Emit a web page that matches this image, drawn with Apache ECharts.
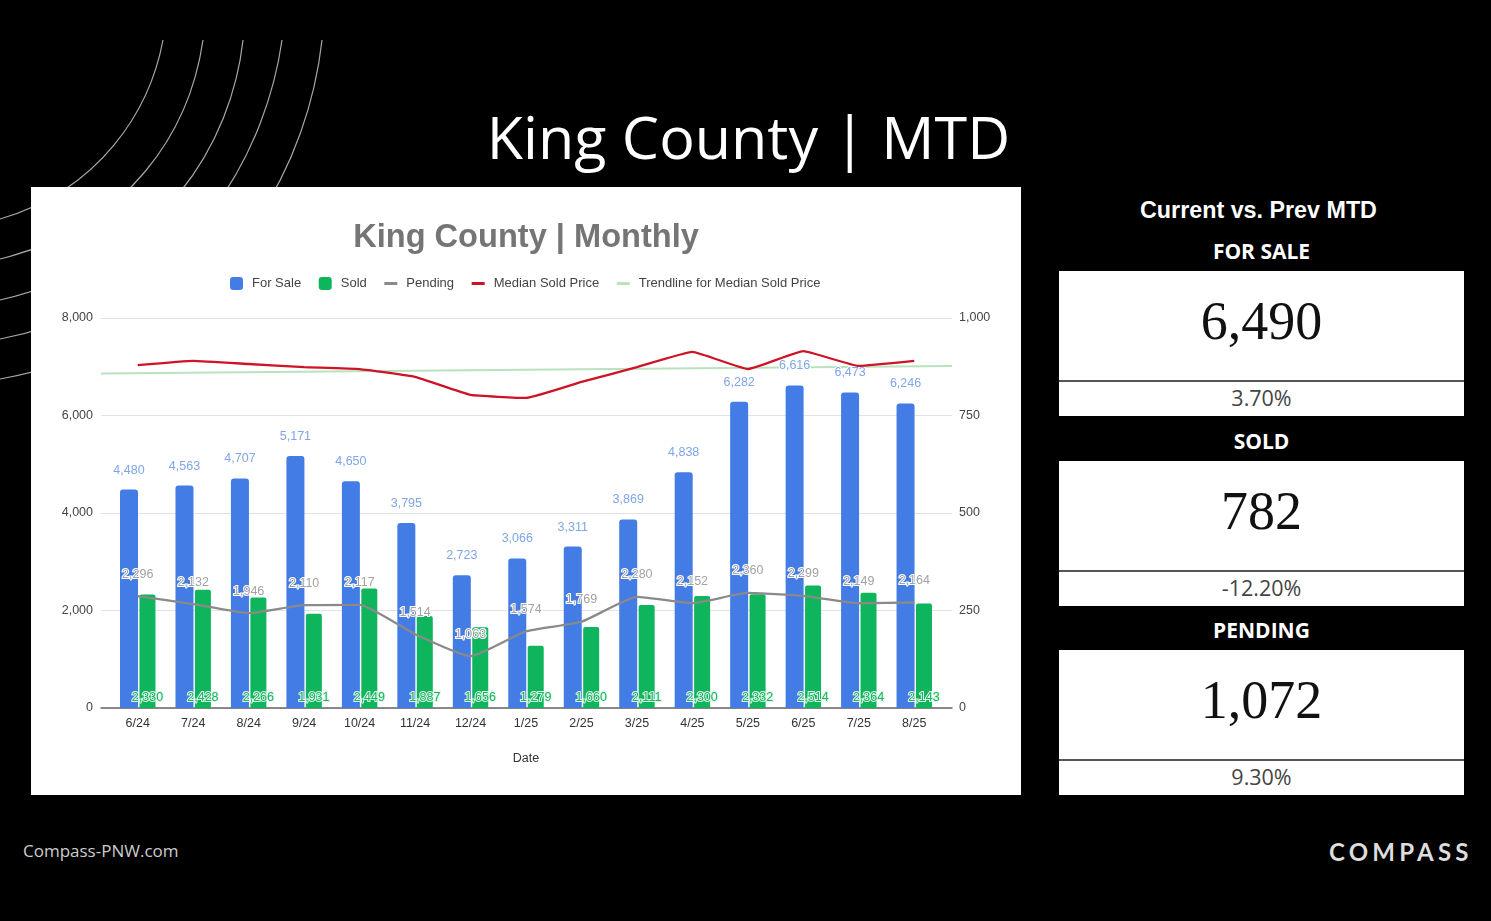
<!DOCTYPE html>
<html>
<head>
<meta charset="utf-8">
<title>King County | MTD</title>
<script src="https://cdn.jsdelivr.net/npm/echarts@6/dist/echarts.min.js"></script>
<style>
    html { background: #000; }
    body { margin: 0; width: 1491px; height: 921px; background: #000; overflow: hidden; filter: blur(0.4px); }
    #arcs { position: absolute; left: 0; top: 0; }
    #page-title {
        position: absolute; left: 31px; width: 1435px; top: 96px; text-align: center;
        color: #fff; font: 59.2px "Open Sans", sans-serif; white-space: pre;
    }
    #chart { position: absolute; left: 31px; top: 187px; width: 990px; height: 608px; background: #fff; }
    #panel-title {
        position: absolute; left: 1056px; width: 405px; top: 197px; text-align: center;
        color: #fff; font: bold 23.3px "Liberation Sans", sans-serif;
    }
    .stat-head {
        position: absolute; left: 1059px; width: 405px; text-align: center;
        color: #fff; font: bold 21px "Open Sans", sans-serif;
    }
    .stat-value {
        position: absolute; left: 1059px; width: 405px; height: 109px;
        background: #fff; color: #111; text-align: center; font: 54px/100px "Liberation Serif", serif;
        border-bottom: 2px solid #555; box-sizing: content-box;
    }
    .stat-change {
        position: absolute; left: 1059px; width: 405px; height: 34px;
        background: #fff; color: #444; text-align: center; font: 21.5px/32px "Open Sans", sans-serif;
    }
    #site { position: absolute; left: 23px; top: 839px; color: #ccc; font: 17px "Open Sans", sans-serif; }
    #logo {
        position: absolute; left: 1329px; top: 837px; color: #ddd;
        font: bold 24px "Lato", sans-serif; letter-spacing: 4.2px;
    }
</style>
</head>
<body>
<svg id="arcs" width="340" height="400" fill="none" stroke="#a8a8a8" stroke-width="1.2">
    <path d="M163,40 C150,110 100,190 0,219"/>
    <path d="M203,40 C190,130 130,227 0,259"/>
    <path d="M243,40 C232,140 165,262 0,300"/>
    <path d="M282,40 C268,140 200,300 0,339"/>
    <path d="M322,40 C310,150 240,335 0,379"/>
</svg>
<div id="page-title">King County | MTD</div>
<div id="chart"></div>
<div id="panel-title">Current vs. Prev MTD</div>
<div id="stats"></div>
<div id="site">Compass-PNW.com</div>
<div id="logo">COMPASS</div>

<script>
// chart data
const months = ['6/24', '7/24', '8/24', '9/24', '10/24', '11/24', '12/24', '1/25', '2/25', '3/25', '4/25', '5/25', '6/25', '7/25', '8/25'];
const forSale = [4480, 4563, 4707, 5171, 4650, 3795, 2723, 3066, 3311, 3869, 4838, 6282, 6616, 6473, 6246];
const sold = [2330, 2428, 2266, 1931, 2449, 1887, 1656, 1279, 1660, 2111, 2300, 2332, 2514, 2364, 2143];
const pending = [2296, 2132, 1946, 2110, 2117, 1514, 1063, 1574, 1769, 2280, 2152, 2360, 2299, 2149, 2164];
const medianPrice = [879, 890, 882, 874, 869, 849, 803, 795, 836, 874, 913, 869, 915, 877, 890];
const trendline = [[0, 858], [1, 877]];

// right hand panel
const statNames = ['FOR SALE', 'SOLD', 'PENDING'];
const statValues = ['6,490', '782', '1,072'];
const statChanges = ['3.70%', '-12.20%', '9.30%'];

const AXIS_FONT = { fontFamily: '"Liberation Sans", Arial, sans-serif', fontSize: 12.5 };
const LINE_ICON = 'path://M0,0 L13,0 Z M0,13 L13,13 Z M0,5 L13,5 L13,8 L0,8 Z';

// stat boxes
const statsEl = document.getElementById('stats');
statNames.forEach((name, i) => {
    const top = 271 + i * 189.5;
    statsEl.innerHTML +=
        `<div class="stat-head" style="top:${top - 34}px">${name}</div>` +
        `<div class="stat-value" style="top:${top}px">${statValues[i]}</div>` +
        `<div class="stat-change" style="top:${top + 111}px">${statChanges[i]}</div>`;
});

function dataLabel(position, distance, color, borderColor) {
    return Object.assign({
        show: true, position: position, distance: distance, color: color,
        textBorderColor: borderColor || '#fff', textBorderWidth: 2,
        formatter: p => p.value.toLocaleString('en-US')
    }, AXIS_FONT);
}

const myChart = echarts.init(document.getElementById('chart'));
myChart.setOption({
    animation: false,
    title: {
        text: 'King County | Monthly', left: 'center', top: 30,
        textStyle: { color: '#757575', fontSize: 32.6, fontWeight: 'bold', fontFamily: '"Liberation Sans", Arial, sans-serif' }
    },
    legend: {
        left: 194, top: 85, itemWidth: 13, itemHeight: 13, itemGap: 17.6,
        textStyle: Object.assign({}, AXIS_FONT, { color: '#444', fontSize: 13, padding: [0, 0, 0, 4] }),
        data: [
            { name: 'For Sale', icon: 'roundRect' },
            { name: 'Sold', icon: 'roundRect' },
            { name: 'Pending', icon: LINE_ICON },
            { name: 'Median Sold Price', icon: LINE_ICON },
            { name: 'Trendline for Median Sold Price', icon: LINE_ICON }
        ]
    },
    // grid 0 carries the gridlines and the full width baseline, grid 1 the months
    grid: [
        { left: 70, right: 69, top: 131, bottom: 87 },
        { left: 79, right: 79, top: 131, bottom: 87 }
    ],
    xAxis: [
        {
            type: 'value', gridIndex: 0, min: 0, max: 1, interval: 1,
            axisLabel: { show: false }, axisTick: { show: false }, splitLine: { show: false },
            axisLine: { show: true, onZero: false, lineStyle: { color: '#666', width: 1.5 } }
        },
        {
            type: 'category', gridIndex: 1, data: months, name: 'Date', nameLocation: 'middle', nameGap: 44,
            nameTextStyle: Object.assign({ color: '#333' }, AXIS_FONT),
            axisLine: { show: false }, axisTick: { show: false },
            axisLabel: Object.assign({ color: '#333', margin: 9, interval: 0 }, AXIS_FONT)
        }
    ],
    yAxis: [
        {
            type: 'value', gridIndex: 0, min: 0, max: 8000, interval: 2000,
            axisLine: { show: false }, axisTick: { show: false },
            axisLabel: Object.assign({ color: '#444', margin: 8, padding: [3, 0, 0, 0], formatter: v => v.toLocaleString('en-US') }, AXIS_FONT),
            splitLine: { lineStyle: { color: '#e2e2e2', width: 1.2 } }
        },
        {
            type: 'value', gridIndex: 0, position: 'right', min: 0, max: 1000, interval: 250,
            axisLine: { show: false }, axisTick: { show: false }, splitLine: { show: false },
            axisLabel: Object.assign({ color: '#444', margin: 7, padding: [3, 0, 0, 0], formatter: v => v.toLocaleString('en-US') }, AXIS_FONT)
        },
        { type: 'value', gridIndex: 1, min: 0, max: 8000, show: false },
        { type: 'value', gridIndex: 1, min: 0, max: 1000, show: false }
    ],
    series: [
        {
            name: 'Trendline for Median Sold Price', type: 'line', xAxisIndex: 0, yAxisIndex: 1, data: trendline,
            showSymbol: false, z: 1, itemStyle: { color: '#b9e2bd', borderWidth: 0 }, lineStyle: { color: '#b9e2bd', width: 2 }
        },
        {
            name: 'For Sale', type: 'bar', xAxisIndex: 1, yAxisIndex: 2, data: forSale, barWidth: 18, barGap: '8%', z: 2,
            itemStyle: { color: '#437ce4', borderRadius: [3, 3, 0, 0] },
            label: dataLabel('top', 13, '#7fa6e8')
        },
        {
            name: 'Sold', type: 'bar', xAxisIndex: 1, yAxisIndex: 2, data: sold, barWidth: 16, z: 2,
            itemStyle: { color: '#0fb55c', borderRadius: [2, 2, 0, 0] },
            label: dataLabel('insideBottom', 4, '#17b661', '#dff5e8')
        },
        {
            name: 'Pending', type: 'line', xAxisIndex: 1, yAxisIndex: 2, data: pending, smooth: 0.15, z: 3,
            showSymbol: true, showAllSymbol: true, symbol: 'circle', symbolSize: 1,
            itemStyle: { color: '#8a8a8a', borderWidth: 0 }, lineStyle: { color: '#8a8a8a', width: 2.3 },
            label: dataLabel('top', 15, '#a2a2a2')
        },
        {
            name: 'Median Sold Price', type: 'line', xAxisIndex: 1, yAxisIndex: 3, data: medianPrice, smooth: 0.1, showSymbol: false, z: 3,
            itemStyle: { color: '#cf1327', borderWidth: 0 }, lineStyle: { color: '#cf1327', width: 2.3 }
        }
    ]
});

window.addEventListener('resize', () => myChart.resize());
</script>
</body>
</html>
